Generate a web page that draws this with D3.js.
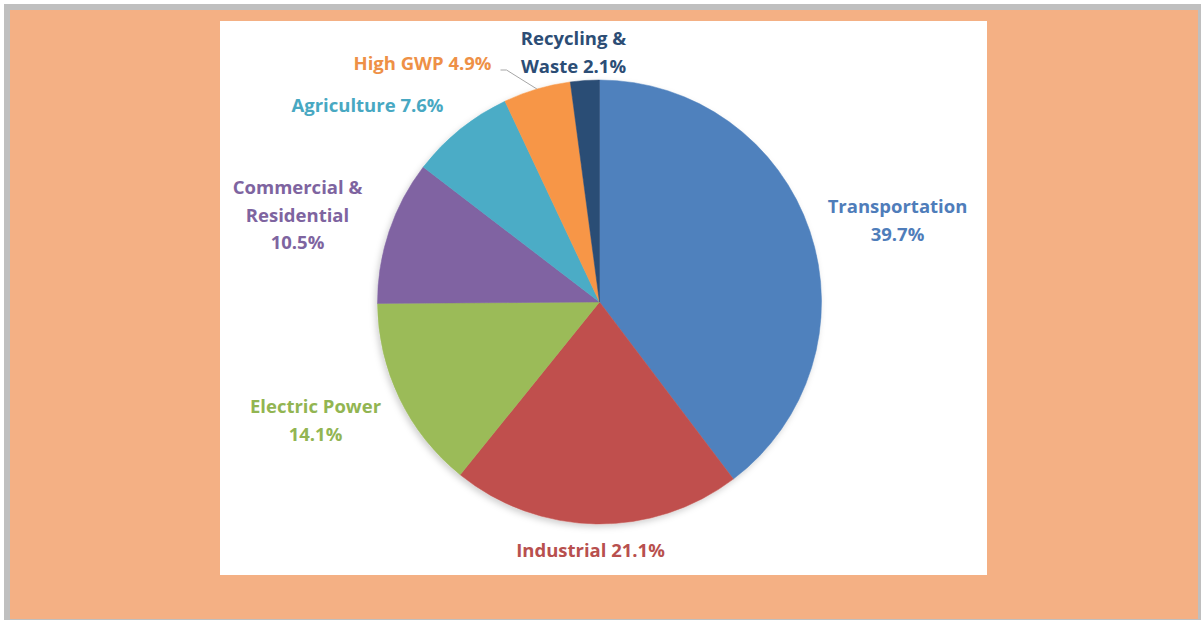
<!DOCTYPE html>
<html>
<head>
<meta charset="utf-8">
<script src="https://cdn.jsdelivr.net/npm/d3@7/dist/d3.min.js"></script>
<style>
  html, body { margin: 0; padding: 0; background: #fff; }
  svg { display: block; }
</style>
</head>
<body>
<div id="chart"></div>
<script>
// slice data, clockwise from 12 o'clock
const categories = ['Transportation', 'Industrial', 'Electric Power', 'Commercial & Residential',
  'Agriculture', 'High GWP', 'Recycling & Waste'];
const values = [39.7, 21.1, 14.1, 10.5, 7.6, 4.9, 2.1];
const labelLines = [
  ['Transportation', '39.7%'],
  ['Industrial 21.1%'],
  ['Electric Power', '14.1%'],
  ['Commercial &', 'Residential', '10.5%'],
  ['Agriculture 7.6%'],
  ['High GWP 4.9%'],
  ['Recycling &', 'Waste 2.1%']
];
const colors = ['#4F81BD', '#C0504D', '#9BBB59', '#8064A2', '#4BACC6', '#F79646', '#2C4D75'];
const textColors = ['#4F7DBA', '#B8504E', '#92B552', '#7E64A0', '#48A8C2', '#EE9046', '#2C4D75'];

const W = 1201, H = 620;
const cx = 599.5, cy = 302, r = 222;

// where each label's first line sits, relative to the pie centre (manual, like the original)
const labelAt = [
  [298, -95], [-9, 249], [-284, 105], [-302, -114],
  [-232, -196], [-177, -238], [-26, -263]
];
const lineH = 27.5;

const svg = d3.select('#chart').append('svg')
  .attr('width', W)
  .attr('height', H);

// frame
svg.append('rect').attr('x', 4).attr('y', 4).attr('width', W - 4).attr('height', H - 4).attr('fill', '#BFBFBF');
svg.append('rect').attr('x', 10).attr('y', 10).attr('width', 1188).attr('height', 609).attr('fill', '#F4B084');
svg.append('rect').attr('x', 220).attr('y', 21).attr('width', 767).attr('height', 554).attr('fill', '#fff');

const defs = svg.append('defs');
const f = defs.append('filter').attr('id', 'shadow').attr('x', '-10%').attr('y', '-10%').attr('width', '120%').attr('height', '120%');
f.append('feDropShadow').attr('dx', -2).attr('dy', 3).attr('stdDeviation', 3)
  .attr('flood-color', '#000').attr('flood-opacity', 0.18);

const pie = d3.pie().sort(null).value(d => d);
const arcs = pie(values);
const arc = d3.arc().innerRadius(0).outerRadius(r);
const edge = d3.arc().innerRadius(r).outerRadius(r);

const g = svg.append('g').attr('transform', `translate(${cx},${cy})`);

g.append('g').attr('filter', 'url(#shadow)')
  .selectAll('path')
  .data(arcs)
  .enter().append('path')
  .attr('d', arc)
  .attr('fill', (d, i) => colors[i])
  .attr('stroke', (d, i) => colors[i])
  .attr('stroke-width', 0.5);

// leader line for High GWP
const gwp = edge.centroid(arcs[5]);
const gx = labelAt[5][0] + 78;
const gy = labelAt[5][1] + 6;
g.append('polyline')
  .attr('points', `${gx},${gy} ${gx + 6},${gy} ${gwp[0]},${gwp[1]}`)
  .attr('fill', 'none')
  .attr('stroke', '#A6A6A6')
  .attr('stroke-width', 1);

const labels = g.append('g')
  .selectAll('text')
  .data(arcs)
  .enter().append('text')
  .attr('text-anchor', 'middle')
  .attr('font-family', '"Open Sans", "Noto Sans", sans-serif')
  .attr('font-weight', 'bold')
  .attr('font-size', '18.5px')
  .attr('fill', (d, i) => textColors[i])
  .attr('x', (d, i) => labelAt[i][0])
  .attr('y', (d, i) => labelAt[i][1]);

labels.each(function(d, i) {
  d3.select(this).selectAll('tspan')
    .data(labelLines[i])
    .enter().append('tspan')
    .attr('x', labelAt[i][0])
    .attr('dy', (t, j) => j === 0 ? '0.35em' : lineH)
    .text(t => t);
});
</script>
</body>
</html>
